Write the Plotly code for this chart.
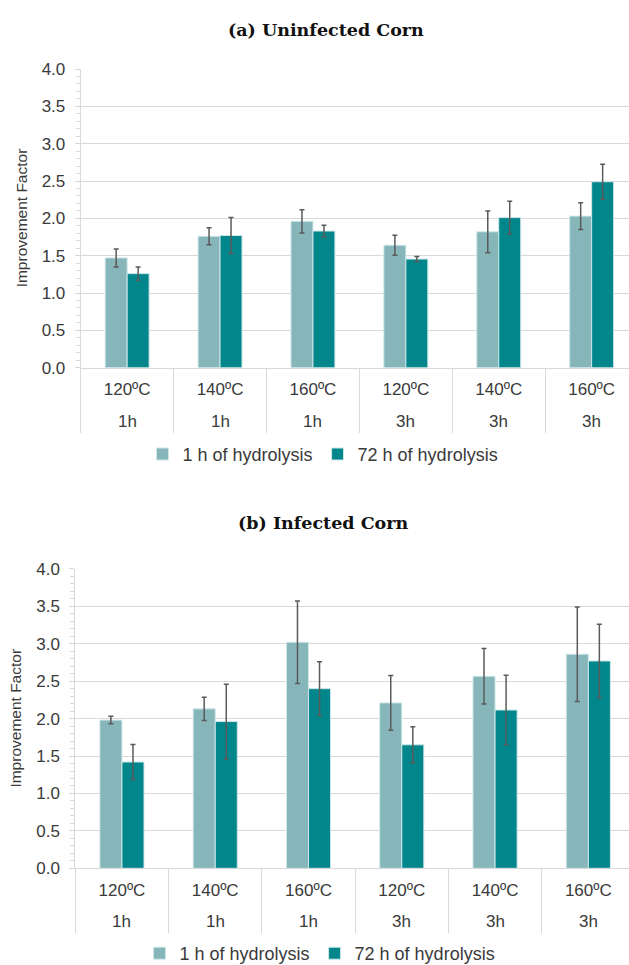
import plotly.graph_objects as go

temps = ["120ºC", "140ºC", "160ºC", "120ºC", "140ºC", "160ºC"]
times = ["1h", "1h", "1h", "3h", "3h", "3h"]
series_names = ["1 h of hydrolysis", "72 h of hydrolysis"]

# (a) Uninfected corn
a_1h = [1.47, 1.76, 1.96, 1.64, 1.82, 2.03]
a_1h_err = [0.12, 0.115, 0.155, 0.135, 0.28, 0.18]
a_72h = [1.26, 1.77, 1.83, 1.455, 2.01, 2.49]
a_72h_err = [0.09, 0.24, 0.078, 0.034, 0.22, 0.233]

# (b) Infected corn
b_1h = [1.98, 2.13, 3.02, 2.21, 2.565, 2.86]
b_1h_err = [0.05, 0.155, 0.55, 0.365, 0.37, 0.63]
b_72h = [1.42, 1.96, 2.40, 1.65, 2.115, 2.77]
b_72h_err = [0.235, 0.5, 0.36, 0.24, 0.465, 0.49]

yticks = [0.0, 0.5, 1.0, 1.5, 2.0, 2.5, 3.0, 3.5, 4.0]
titles = ["(a) Uninfected Corn", "(b) Infected Corn"]
ytitle = "Improvement Factor"

W, H = 629, 965
LIGHT = "#86B6BA"
DARK = "#00868B"
GRID = "#d9d9d9"
TXT = "#3a3a3a"
FONT = "Liberation Sans"
FS = 17

xpos = list(range(len(temps)))
bounds = [i - 0.5 for i in range(len(temps) + 1)]

fig = go.Figure()

def add_pair(vals1, err1, vals2, err2, xa, ya, legend):
    for name, vals, err, col in [(series_names[0], vals1, err1, LIGHT),
                                 (series_names[1], vals2, err2, DARK)]:
        fig.add_trace(go.Bar(
            x=xpos, y=vals, name=name, xaxis=xa, yaxis=ya, legend=legend,
            marker=dict(color=col, line=dict(color="#cfe7e8", width=1)),
            error_y=dict(type="data", array=err, visible=True,
                         color="#5a5a5a", thickness=1.5, width=2.5),
        ))

add_pair(a_1h, a_1h_err, a_72h, a_72h_err, "x", "y", "legend")
add_pair(b_1h, b_1h_err, b_72h, b_72h_err, "x2", "y2", "legend2")

def px_x(p):
    return p / W

def px_y(p):
    return 1 - p / H

panels = [
    dict(left=80.7, y0=367.7, y4=69.0, xmax=5.402, xa="xaxis", ya="yaxis",
         xr="x", yr="y", time_y=421.7, title_x=21),
    dict(left=75.3, y0=868.3, y4=568.9, xmax=5.436, xa="xaxis2", ya="yaxis2",
         xr="x2", yr="y2", time_y=921.7, title_x=16),
]

layout = dict(
    width=W, height=H,
    margin=dict(l=0, r=0, t=0, b=0, autoexpand=False),
    paper_bgcolor="white", plot_bgcolor="white",
    barmode="group", bargap=0.527, bargroupgap=0,
    font=dict(family=FONT, size=FS, color=TXT),
    showlegend=True,
)

annotations = []
for i, p in enumerate(panels):
    rng = [-0.5, p["xmax"]]
    layout[p["xa"]] = dict(
        domain=[px_x(p["left"]), 1], anchor=p["yr"], type="linear", range=rng,
        tickmode="array", tickvals=xpos, ticktext=temps, ticks="",
        ticklabelstandoff=6, automargin=False,
        showline=True, linecolor=GRID, linewidth=1, showgrid=False, zeroline=False,
        tickfont=dict(family=FONT, size=FS, color=TXT),
        minor=dict(tickmode="array", tickvals=bounds, ticks="outside",
                   ticklen=64, tickcolor=GRID, tickwidth=1, showgrid=False),
        fixedrange=True,
    )
    layout[p["ya"]] = dict(
        domain=[px_y(p["y0"]), px_y(p["y4"])], anchor=p["xr"], range=[0, 4],
        tickmode="array", tickvals=yticks, tickformat=".1f",
        ticks="outside", ticklen=5, tickcolor=GRID, automargin=False,
        showgrid=True, gridcolor=GRID, gridwidth=1,
        showline=True, linecolor=GRID, linewidth=1, zeroline=False,
        tickfont=dict(family=FONT, size=FS, color=TXT),
        ticklabelstandoff=6,
        minor=dict(dtick=0.1, ticks="outside", ticklen=4, tickcolor=GRID,
                   showgrid=False),
        fixedrange=True,
    )
    for xv, t in zip(xpos, times):
        annotations.append(dict(
            text=t, x=xv, y=px_y(p["time_y"]), xref=p["xr"], yref="paper",
            showarrow=False, xanchor="center", yanchor="middle",
            font=dict(family=FONT, size=FS, color=TXT)))
    annotations.append(dict(
        text=ytitle, x=px_x(p["title_x"]), y=px_y((p["y0"] + p["y4"]) / 2),
        xref="paper", yref="paper", showarrow=False, textangle=-90,
        xanchor="center", yanchor="middle",
        font=dict(family=FONT, size=15.5, color=TXT)))

layout["legend"] = dict(orientation="h", x=323 / W, xanchor="center",
                        y=px_y(454.3), yanchor="middle",
                        font=dict(family=FONT, size=18, color=TXT),
                        itemwidth=30, bgcolor="rgba(0,0,0,0)")
layout["legend2"] = dict(orientation="h", x=320 / W, xanchor="center",
                         y=px_y(953.5), yanchor="middle",
                         font=dict(family=FONT, size=18, color=TXT),
                         itemwidth=30, bgcolor="rgba(0,0,0,0)")

annotations += [
    dict(text="<b>" + titles[0] + "</b>", x=326 / W, y=px_y(30), xref="paper",
         yref="paper", showarrow=False, xanchor="center", yanchor="middle",
         font=dict(family="DejaVu Serif", size=17.5, color="#111")),
    dict(text="<b>" + titles[1] + "</b>", x=322.6 / W, y=px_y(523), xref="paper",
         yref="paper", showarrow=False, xanchor="center", yanchor="middle",
         font=dict(family="DejaVu Serif", size=17.5, color="#111")),
]
layout["annotations"] = annotations

fig.update_layout(**layout)
fig.write_html("out.html", config={"displayModeBar": False},
               post_script="document.body.style.margin='0';document.body.style.overflow='hidden';")
